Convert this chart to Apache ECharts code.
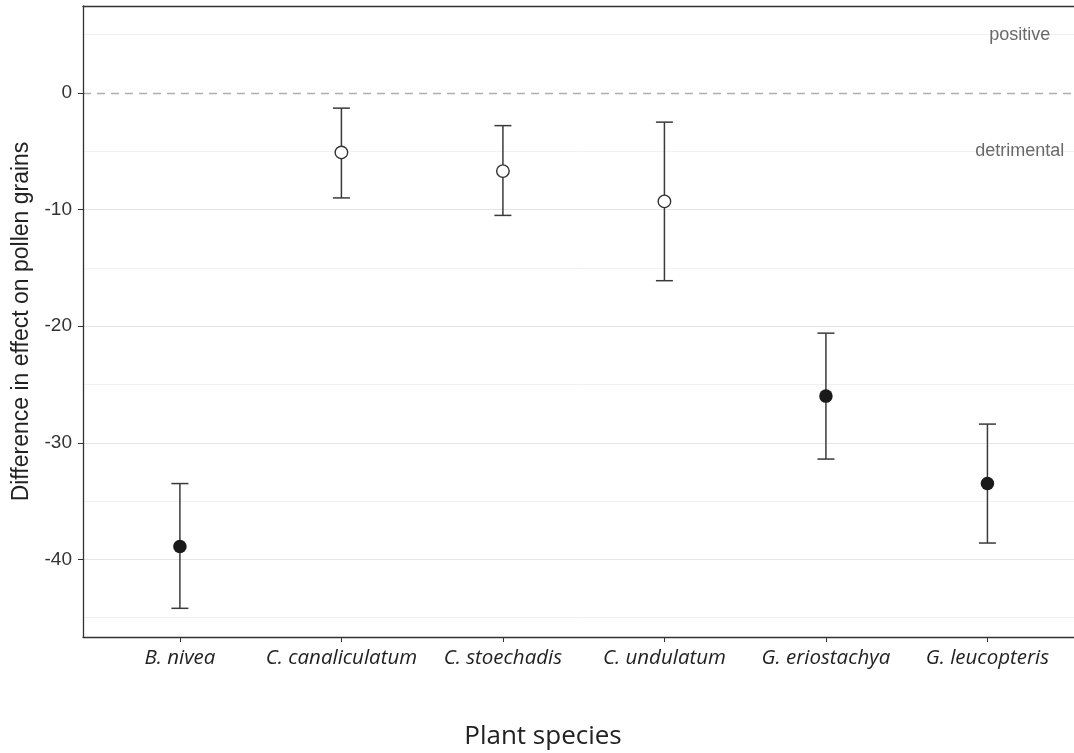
<!DOCTYPE html>
<html>
<head>
<meta charset="utf-8">
<script src="https://cdn.jsdelivr.net/npm/echarts@6/dist/echarts.min.js"></script>
<style>html,body{margin:0;padding:0;background:#fff}#c{width:1074px;height:753px}</style>
</head>
<body>
<div id="c"></div>
<script>
var species = ["B. nivea", "C. canaliculatum", "C. stoechadis", "C. undulatum", "G. eriostachya", "G. leucopteris"];
var meanVals = [-38.9, -5.1, -6.7, -9.3, -26.0, -33.5];
var lowerVals = [-44.2, -9.0, -10.5, -16.1, -31.4, -38.6];
var upperVals = [-33.5, -1.3, -2.8, -2.5, -20.6, -28.4];
var filled = [true, false, false, false, true, true];
var yTicks = [-40, -30, -20, -10, 0];
var yMinor = [-45, -35, -25, -15, -5, 5];
var annoX = [6.2, 6.2];
var annoY = [5, -5];
var annoText = ["positive", "detrimental"];

var xPos = species.map(function (s, i) { return i + 1; });
var errData = species.map(function (s, i) { return [xPos[i], lowerVals[i], upperVals[i]]; });
var filledData = [], openData = [];
species.forEach(function (s, i) {
  (filled[i] ? filledData : openData).push([xPos[i], meanVals[i]]);
});

var chart = echarts.init(document.getElementById('c'), null, {renderer: 'canvas'});
var option = {
  animation: false,
  grid: {left: 83, right: 0, top: 6, bottom: 116, show: false},
  xAxis: [{
    type: 'value', min: 0.4, max: 6.536,
    splitLine: {show: false},
    axisLine: {show: true, onZero: false, lineStyle: {color: '#333', width: 1.3}},
    axisTick: {show: true, length: 5, customValues: xPos, lineStyle: {color: '#333'}},
    axisLabel: {
      customValues: xPos, margin: 11,
      formatter: function (v) { return species[Math.round(v) - 1] || ''; },
      fontFamily: 'Open Sans', fontStyle: 'italic', fontSize: 20.5, color: '#222'
    }
  }, {
    type: 'value', min: 0.4, max: 6.536, position: 'top',
    splitLine: {show: false},
    axisLine: {show: true, onZero: false, lineStyle: {color: '#333', width: 1.3}},
    axisTick: {show: false}, axisLabel: {show: false}
  }],
  yAxis: {
    type: 'value', min: -46.66, max: 7.46,
    name: 'Difference in effect on pollen grains', nameLocation: 'middle', nameGap: 61,
    nameTextStyle: {fontFamily: 'Liberation Sans', fontSize: 23, color: '#222', verticalAlign: 'middle'},
    splitLine: {show: false},
    axisLine: {show: true, onZero: false, lineStyle: {color: '#333', width: 1.3}},
    axisTick: {show: true, length: 5, customValues: yTicks, lineStyle: {color: '#333'}},
    axisLabel: {customValues: yTicks, margin: 11, fontFamily: 'Liberation Sans', fontSize: 19, color: '#333'}
  },
  graphic: [{
    type: 'text', x: 543, y: 737,
    style: {text: 'Plant species', font: '26px "Open Sans"', fill: '#222', textAlign: 'center', textVerticalAlign: 'middle'}
  }],
  series: [
    {
      type: 'line', data: [], silent: true, z: 0,
      markLine: {
        silent: true, symbol: 'none', label: {show: false}, z: 0,
        data: yMinor.map(function (v) { return {yAxis: v, lineStyle: {color: '#f1f1f1', width: 1, type: 'solid'}}; })
          .concat(yTicks.filter(function (v) { return v !== 0; }).map(function (v) { return {yAxis: v, lineStyle: {color: '#e4e4e4', width: 1.2, type: 'solid'}}; }))
          .concat([{yAxis: 0, lineStyle: {color: '#b0b0b0', width: 1.3, type: [8, 6]}}])
      }
    },
    {
      type: 'custom', data: errData, z: 3,
      renderItem: function (params, api) {
        var x = api.value(0);
        var lo = api.coord([x, api.value(1)]);
        var hi = api.coord([x, api.value(2)]);
        var hw = 8.5;
        var st = {stroke: '#3a3a3a', lineWidth: 1.5};
        return {type: 'group', children: [
          {type: 'line', shape: {x1: lo[0], y1: lo[1], x2: hi[0], y2: hi[1]}, style: st},
          {type: 'line', shape: {x1: lo[0] - hw, y1: lo[1], x2: lo[0] + hw, y2: lo[1]}, style: st},
          {type: 'line', shape: {x1: hi[0] - hw, y1: hi[1], x2: hi[0] + hw, y2: hi[1]}, style: st}
        ]};
      }
    },
    {
      type: 'scatter', data: filledData, symbol: 'circle', symbolSize: 13.5, z: 5,
      itemStyle: {color: '#1a1a1a', opacity: 1}
    },
    {
      type: 'scatter', data: openData, symbol: 'circle', symbolSize: 12.5, z: 5,
      itemStyle: {color: '#ffffff', borderColor: '#333', borderWidth: 1.4, opacity: 1}
    },
    {
      type: 'scatter', symbolSize: 0, z: 6,
      data: annoText.map(function (t, i) { return {value: [annoX[i], annoY[i]], name: t}; }),
      label: {show: true, position: 'inside', formatter: '{b}', fontFamily: 'Liberation Sans', fontSize: 18, color: '#444'}
    }
  ]
};
chart.setOption(option);
</script>
</body>
</html>
